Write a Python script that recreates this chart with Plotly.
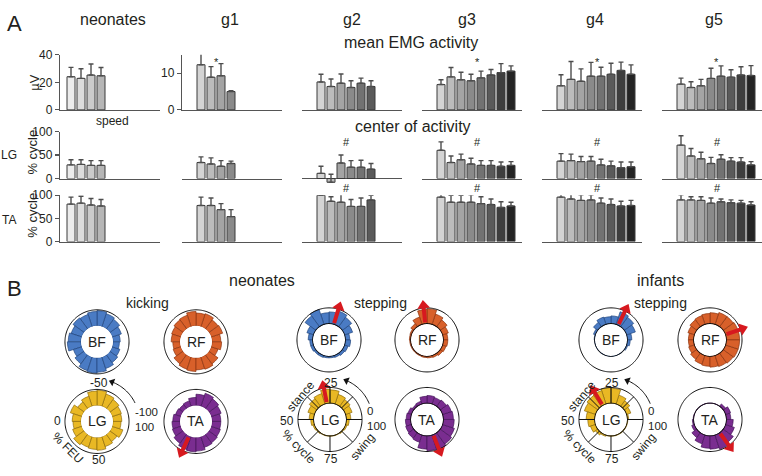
import plotly.graph_objects as go

W, H = 762, 476
FONT = "Liberation Sans, Arial, Helvetica, sans-serif"
INK = "#231f20"

# ---------------- Panel A data ----------------
groups = ["neonates", "g1", "g2", "g3", "g4", "g5"]

emg_mean = {
    "neonates": [24.1, 22.9, 25.3, 24.8],
    "g1": [12.3, 8.9, 9.3, 5.0],
    "g2": [20.3, 17.0, 19.4, 16.3, 19.4, 17.0],
    "g3": [18.4, 24.0, 21.9, 21.2, 23.3, 25.4, 27.1, 28.2],
    "g4": [17.5, 22.2, 20.8, 24.5, 24.5, 25.9, 28.7, 25.9],
    "g5": [18.7, 16.3, 17.5, 22.9, 24.5, 23.8, 25.4, 25.0],
}
emg_err = {
    "neonates": [6.8, 7.0, 8.0, 6.0],
    "g1": [3.7, 2.9, 3.3, 0.2],
    "g2": [5.6, 5.4, 6.7, 4.9, 3.7, 4.2],
    "g3": [3.5, 6.8, 5.4, 4.7, 4.9, 4.0, 6.5, 3.8],
    "g4": [8.0, 13.0, 9.0, 10.0, 6.5, 8.0, 6.0, 6.8],
    "g5": [4.4, 4.2, 4.7, 7.4, 7.5, 5.4, 5.9, 7.2],
}
lg_center = {
    "neonates": [29, 30, 28, 28],
    "g1": [34, 31, 26, 32],
    "g2": [11, -8, 33, 24, 24, 20],
    "g3": [60, 34, 40, 31, 28, 28, 26, 28],
    "g4": [37, 38, 36, 37, 29, 27, 23, 25],
    "g5": [71, 48, 42, 32, 41, 37, 35, 29],
}
lg_err = {
    "neonates": [11, 10, 10, 10],
    "g1": [12, 13, 12, 5],
    "g2": [15, 17, 17, 14, 15, 12],
    "g3": [18, 14, 12, 12, 10, 10, 9, 8],
    "g4": [16, 14, 11, 10, 12, 10, 12, 10],
    "g5": [20, 16, 14, 13, 9.5, 7.5, 9.5, 7],
}
ta_center = {
    "neonates": [81, 83, 79, 77],
    "g1": [78, 78, 69, 54],
    "g2": [100, 87, 85, 76, 76, 90],
    "g3": [96, 85, 85, 85, 82, 80, 74, 77],
    "g4": [96, 92, 89, 90, 83, 80, 77, 78],
    "g5": [90, 90, 89, 83, 86, 84, 83, 79],
}
ta_err = {
    "neonates": [15, 15, 14, 14],
    "g1": [18, 16, 13, 15],
    "g2": [18, 10, 17, 15, 18, 10],
    "g3": [17, 15, 15, 16, 15, 12, 12, 8],
    "g4": [11, 12, 12, 11, 11, 12, 10, 11],
    "g5": [11, 7, 8, 11, 6, 6, 6, 7],
}
emg_star = {"g1": 2.5, "g3": 4.6, "g4": 4.6, "g5": 4.5}
lg_hash = {"g2": 3.5, "g3": 4.6, "g4": 4.6, "g5": 4.6}
ta_hash = {"g2": 3.5, "g3": 4.6, "g4": 4.6, "g5": 4.6}

neonate_grays = ["#ececec", "#dcdcdc", "#cbcbcb", "#b6b6b6"]
gray_ramp = ["#d4d4d4", "#bcbcbc", "#a4a4a4", "#8a8a8a", "#727272", "#5a5a5a", "#3e3e3e", "#242424"]

# ---------------- Panel B data ----------------
theta_bins = list(range(9, 360, 18))
kick_BF = [0.45, 0.6, 0.75, 0.85, 0.95, 0.9, 0.8, 0.85, 0.7, 0.8, 0.85, 0.55, 0.7, 0.9, 0.95, 0.9, 0.75, 0.6, 0.5, 0.4]
kick_RF = [0.55, 0.75, 0.7, 0.85, 0.8, 0.9, 0.75, 0.7, 0.6, 0.55, 0.45, 0.5, 0.7, 0.8, 0.85, 0.75, 0.8, 0.7, 0.45, 0.6]
kick_LG = [0.55, 0.6, 0.7, 0.8, 0.95, 0.9, 0.65, 0.5, 0.75, 0.55, 0.5, 0.6, 0.8, 0.7, 0.75, 0.8, 0.65, 0.55, 0.7, 0.5]
kick_TA = [0.55, 0.65, 0.75, 0.85, 0.7, 0.5, 0.35, 0.3, 0.35, 0.45, 0.5, 0.55, 0.7, 0.85, 0.9, 0.85, 0.7, 0.65, 0.6, 0.55]
step_BF = [0.3, 0.55, 0.75, 0.9, 0.75, 0.7, 1.0, 0.85, 0.45, 0.3, 0.2, 0.2, 0.15, 0.15, 0.12, 0.12, 0.15, 0.2, 0.25, 0.35]
step_RF = [0.3, 0.4, 0.55, 0.7, 0.95, 0.9, 0.5, 0.25, 0.12, 0.1, 0.08, 0.08, 0.08, 0.08, 0.1, 0.12, 0.15, 0.2, 0.25, 0.3]
step_LG = [0.3, 0.45, 0.55, 0.65, 0.85, 0.9, 0.7, 0.6, 0.45, 0.3, 0.2, 0.12, 0.08, 0.05, 0.05, 0.05, 0.05, 0.08, 0.12, 0.2]
step_TA = [0.65, 0.6, 0.5, 0.45, 0.5, 0.45, 0.2, 0.15, 0.25, 0.3, 0.35, 0.4, 0.45, 0.5, 0.85, 0.95, 1.0, 0.9, 0.8, 0.7]
inf_BF = [0.3, 0.6, 0.75, 0.85, 0.5, 0.45, 0.5, 0.35, 0.15, 0.05, 0.02, 0.02, 0.02, 0.02, 0.02, 0.02, 0.02, 0.02, 0.1, 0.2]
inf_RF = [0.85, 0.85, 0.8, 0.8, 0.7, 0.65, 0.6, 0.55, 0.45, 0.35, 0.35, 0.4, 0.5, 0.6, 0.65, 0.7, 0.75, 0.8, 0.85, 0.85]
inf_LG = [0.1, 0.3, 0.45, 0.6, 0.95, 1.0, 0.9, 0.85, 0.75, 0.55, 0.45, 0.35, 0.2, 0.1, 0.05, 0.05, 0.05, 0.05, 0.05, 0.05]
inf_TA = [0.3, 0.35, 0.2, 0.03, 0.03, 0.03, 0.03, 0.03, 0.03, 0.05, 0.1, 0.2, 0.4, 0.6, 0.8, 0.85, 0.95, 0.8, 0.6, 0.45]
arrow_theta = {"kick_TA": 245, "step_BF": 73, "step_RF": 96, "step_LG": 101, "step_TA": 292,
               "inf_BF": 64, "inf_RF": 19, "inf_LG": 121, "inf_TA": 306}

muscle_colors = {
    "BF": ("#4a7bc4", "#22467e"),
    "RF": ("#d8602a", "#8c3511"),
    "LG": ("#e9b824", "#8f6d0c"),
    "TA": ("#7a2d90", "#45155a"),
}
RED = "#d7191f"

fig = go.Figure()
annotations = []


def txt(x, y, text, size=12, angle=0, xanchor="center", align="center"):
    annotations.append(dict(x=x, y=y, xref="paper", yref="paper", text=text, showarrow=False,
                            textangle=angle, font=dict(family=FONT, size=size, color=INK),
                            xanchor=xanchor, yanchor="middle", align=align))


def px(xp, yp):
    return xp / W, 1 - yp / H


# ---------------- Panel A layout ----------------
col_x0 = [60, 182, 302, 422, 542, 662]
col_w = 100
row_px = [(49.3, 106.0), (128.3, 176.7), (194.0, 241.7)]
datasets = [(emg_mean, emg_err), (lg_center, lg_err), (ta_center, ta_err)]
layout_axes = {}

for r in range(3):
    means, errs = datasets[r]
    for c, g in enumerate(groups):
        k = r * 6 + c + 1
        xn = "x" if k == 1 else f"x{k}"
        yn = "y" if k == 1 else f"y{k}"
        vals = means[g]
        n = len(vals)
        xs = list(range(1, n + 1))
        colors = neonate_grays if g == "neonates" else gray_ramp[:n]
        fig.add_trace(go.Bar(
            x=xs, y=vals, xaxis=xn, yaxis=yn, width=0.8,
            marker=dict(color=colors, line=dict(color="#3a3a3a", width=1)),
            error_y=dict(type="data", array=errs[g], arrayminus=[0] * n, symmetric=False,
                         color="#4d4d4d", thickness=1.4, width=2.5),
            showlegend=False, hoverinfo="skip"))

        top_px, bot_px = row_px[r]
        yr = [0, 40] if r == 0 else [0, 100]
        if r == 0 and g == "g1":
            yr = [0, 15]
        neg = (r == 1 and g == "g2")
        if neg:
            yr = [-12, 100]
            bot_px = bot_px + 12 * (row_px[1][1] - row_px[1][0]) / 100
        xr = [-0.1, 9.9] if g == "neonates" else [-0.9, 9.1]
        x0 = col_x0[c]
        show_y = (g == "neonates") or (r == 0 and g == "g1")
        if r == 0:
            tv = [0, 20, 40] if g == "neonates" else [0, 10]
        else:
            tv = [0, 50, 100]
        layout_axes["xaxis" if k == 1 else f"xaxis{k}"] = dict(
            domain=[x0 / W, min(1.0, (x0 + col_w) / W)], range=xr, anchor=yn,
            showline=not neg, linecolor="#555", linewidth=1.2, showticklabels=False,
            ticks="", showgrid=False, zeroline=False, fixedrange=True)
        layout_axes["yaxis" if k == 1 else f"yaxis{k}"] = dict(
            domain=[1 - bot_px / H, 1 - top_px / H], range=yr, anchor=xn,
            showgrid=False, zeroline=neg, zerolinecolor="#555", zerolinewidth=1.2,
            showline=show_y, linecolor="#555", linewidth=1.2,
            ticks="outside" if show_y else "", ticklen=4, tickwidth=1.2, tickcolor="#555",
            tickvals=tv, showticklabels=show_y,
            tickfont=dict(family=FONT, size=12, color=INK), fixedrange=True)

        marks = [emg_star, lg_hash, ta_hash][r]
        if g in marks:
            ypx = [57.0, 139.5, 186.5][r]
            annotations.append(dict(x=marks[g], y=1 - ypx / H, xref=xn, yref="paper",
                                    text="*" if r == 0 else "#", showarrow=False,
                                    font=dict(family=FONT, size=11, color=INK),
                                    xanchor="center", yanchor="middle"))

# Panel A texts
txt(*px(14, 17), "A", size=22)
for c, (g, xc) in enumerate(zip(groups, [113, 230, 352, 467, 595, 714])):
    txt(*px(xc, 13), g, size=16)
txt(*px(411, 37), "mean EMG activity", size=16)
txt(*px(413, 123), "center of activity", size=16)
txt(*px(112, 117), "speed", size=12)
txt(*px(35, 78), "µV", size=13, angle=-90)
txt(*px(33, 150), "% cycle", size=13, angle=-90)
txt(*px(33, 215), "% cycle", size=13, angle=-90)
txt(*px(9, 153), "LG", size=12)
txt(*px(9, 219), "TA", size=12)

# ---------------- Panel B ----------------
R = 33.0
D = 1.45 * R
HOLE = 0.5 / 1.45
RMAX = 1.9  # r = 2*f - 1, f = fraction of outer circle radius


def rr(f):
    return 2 * f - 1


polars = [
    ("BF", 97, 345, kick_BF, None, None),
    ("RF", 196, 345, kick_RF, None, None),
    ("LG", 97, 427, kick_LG, None, "kick"),
    ("TA", 196, 427, kick_TA, "kick_TA", None),
    ("BF", 329, 343, step_BF, "step_BF", "stepc"),
    ("RF", 427, 343, step_RF, "step_RF", "stepc"),
    ("LG", 330, 425, step_LG, "step_LG", "step"),
    ("TA", 427, 425, step_TA, "step_TA", "stepc"),
    ("BF", 611, 343, inf_BF, "inf_BF", "stepc"),
    ("RF", 710, 343, inf_RF, "inf_RF", "stepc"),
    ("LG", 611, 425, inf_LG, "inf_LG", "step"),
    ("TA", 710, 425, inf_TA, "inf_TA", "stepc"),
]

circle_theta = list(range(0, 362, 2))
# (text, dx, dy, angle, size, left-anchored)
kick_labels = [("-50", 1.5, -39.5, 0, 12, False), ("0", -40, 0, 0, 12, False),
               ("-100<br>100", 36, -2.5, 0, 11.5, True), ("50", 2, 40, 0, 12, False),
               ("% FEU", -29, 27, 45, 12, False)]
step_labels = [("25", 1, -38, 0, 12, False), ("50", -43, 2, 0, 12, False),
               ("0<br>100", 35, -1, 0, 11.5, True), ("75", 1, 41, 0, 12, False),
               ("stance", -29, -24, -50, 12, False), ("% cycle", -31, 28, 46, 12, False),
               ("swing", 32, 28, -50, 12, False)]

for j, (mus, cx, cy, vals, akey, kind) in enumerate(polars):
    pname = "polar" if j == 0 else f"polar{j + 1}"
    fill, edge = muscle_colors[mus]
    layout_axes[pname] = dict(
        domain=dict(x=[(cx - D) / W, (cx + D) / W], y=[1 - (cy + D) / H, 1 - (cy - D) / H]),
        hole=HOLE, bgcolor="rgba(0,0,0,0)",
        radialaxis=dict(visible=False, range=[0, RMAX]),
        angularaxis=dict(visible=False, rotation=0, direction="counterclockwise"))
    common = dict(subplot=pname, showlegend=False, hoverinfo="skip")
    if kind == "step":
        sr, st = [], []
        for a in range(0, 360, 45):
            sr += [0, 1, None]
            st += [a, a, None]
        fig.add_trace(go.Scatterpolar(r=sr, theta=st, mode="lines",
                                      line=dict(color="#111", width=1), **common))
    fig.add_trace(go.Barpolar(r=vals, theta=theta_bins, width=18,
                              marker=dict(color=fill, line=dict(color=edge, width=0.7)), **common))
    fig.add_trace(go.Scatterpolar(r=[1] * len(circle_theta), theta=circle_theta, mode="lines",
                                  line=dict(color="#111", width=1), **common))
    if kind in ("step", "stepc"):
        fig.add_trace(go.Scatterpolar(r=[0] * len(circle_theta), theta=circle_theta, mode="lines",
                                      line=dict(color="#111", width=1.6), **common))
    if akey:
        th = arrow_theta[akey]
        fig.add_trace(go.Scatterpolar(r=[rr(0.55), rr(1.04)], theta=[th, th], mode="lines",
                                      line=dict(color=RED, width=4), cliponaxis=False, **common))
        fig.add_trace(go.Scatterpolar(r=[rr(1.08)], theta=[th], mode="markers", cliponaxis=False,
                                      marker=dict(symbol="triangle-up", size=11, color=RED,
                                                  angle=90 - th, line=dict(width=0)), **common))
    if mus == "LG":
        a0, a1 = (26, 68) if kind == "kick" else (22, 66)
        arc_t = list(range(a0, a1 + 1, 2))
        fig.add_trace(go.Scatterpolar(r=[rr(1.32)] * len(arc_t), theta=arc_t, mode="lines",
                                      line=dict(color="#111", width=1), cliponaxis=False, **common))
        fig.add_trace(go.Scatterpolar(r=[rr(1.32)], theta=[a1 + 1], mode="markers", cliponaxis=False,
                                      marker=dict(symbol="triangle-up", size=7, color="#111",
                                                  angle=-(a1 + 1), line=dict(width=0)), **common))
        labels = kick_labels if kind == "kick" else step_labels
        for t, dx, dy, ang, fs, left in labels:
            if left:
                txt(*px(cx + dx, cy + dy), t, size=fs, angle=ang, xanchor="left", align="left")
            else:
                txt(*px(cx + dx, cy + dy), t, size=fs, angle=ang)
    txt(*px(cx, cy), mus, size=14)

txt(*px(14, 290), "B", size=22)
txt(*px(262, 282), "neonates", size=16)
txt(*px(660, 282), "infants", size=16)
txt(*px(147, 305), "kicking", size=14)
txt(*px(380, 305), "stepping", size=14)
txt(*px(660, 305), "stepping", size=14)

fig.update_layout(width=W, height=H, margin=dict(l=0, r=0, t=0, b=0),
                  paper_bgcolor="white", plot_bgcolor="white",
                  font=dict(family=FONT, color=INK), showlegend=False,
                  annotations=annotations, bargap=0, hovermode=False, **layout_axes)

fig.write_html("out.html", config={"displayModeBar": False, "staticPlot": True},
               post_script="document.body.style.margin='0px';document.body.style.overflow='hidden';")
